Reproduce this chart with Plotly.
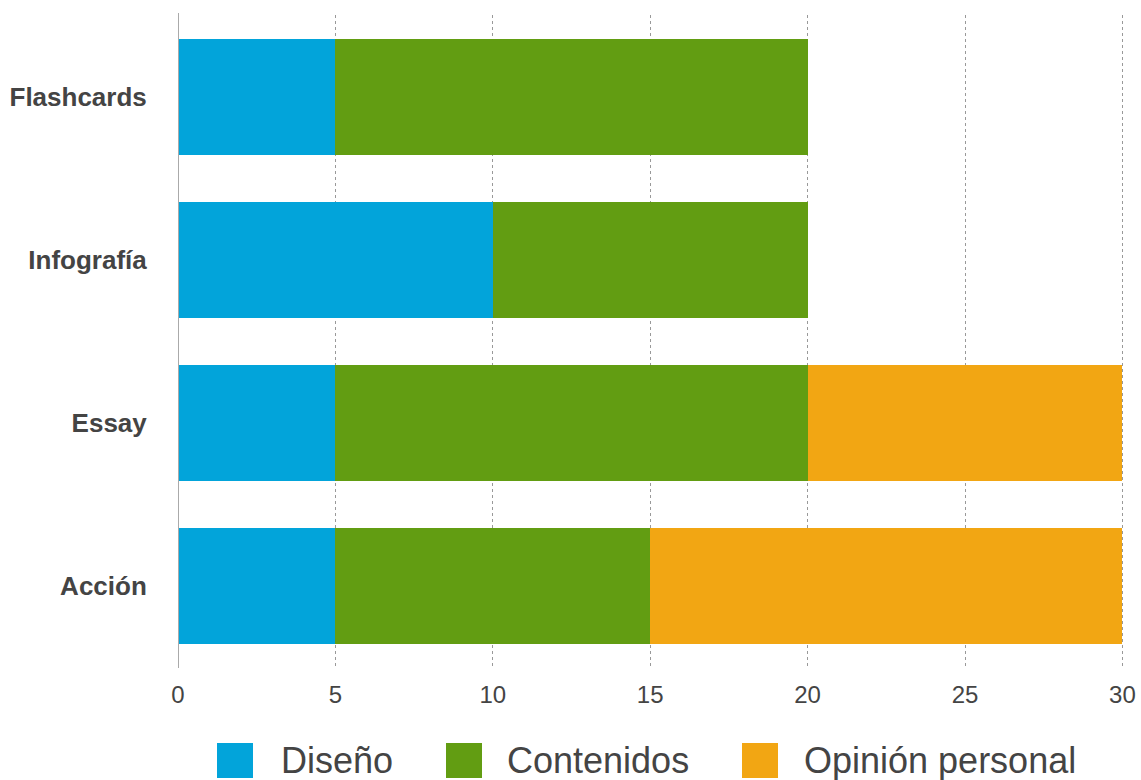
import plotly.graph_objects as go

categories = ["Flashcards", "Infografía", "Essay", "Acción"]
series_names = ["Diseño", "Contenidos", "Opinión personal"]
diseno = [5, 10, 5, 5]
contenidos = [15, 10, 15, 10]
opinion = [0, 0, 10, 15]
colors = ["#02A4DA", "#629D12", "#F2A613"]
x_ticks = [0, 5, 10, 15, 20, 25, 30]

fig = go.Figure()
for name, vals, col in zip(series_names, [diseno, contenidos, opinion], colors):
    fig.add_trace(go.Bar(
        y=categories, x=vals, name=name, orientation="h",
        marker=dict(color=col, line=dict(width=0)),
        showlegend=False,
    ))

fig.update_layout(
    barmode="stack",
    bargap=0.29,
    width=1141, height=780,
    margin=dict(l=178, r=17, t=15, b=112, autoexpand=False),
    plot_bgcolor="white", paper_bgcolor="white",
    font=dict(family="Liberation Sans, Arial, sans-serif", color="#444444"),
    xaxis=dict(
        range=[0, 30.05], tickvals=x_ticks, showgrid=True,
        gridcolor="#999999", griddash="dot", gridwidth=1,
        zeroline=False, showline=False, automargin=False,
        tickfont=dict(size=24, color="#444444"),
        ticks="outside", ticklen=5, tickcolor="rgba(0,0,0,0)",
    ),
    yaxis=dict(
        categoryorder="array", categoryarray=categories[::-1],
        range=[-0.5, 3.5], automargin=False,
        showgrid=False, zeroline=False, showline=False,
        tickfont=dict(size=26, color="#444444", family="Liberation Sans, Arial, sans-serif", weight="bold"),
        ticks="outside", ticklen=25, tickcolor="rgba(0,0,0,0)",
    ),
)

# axis line at x=0
fig.add_shape(type="line", xref="x", yref="paper", x0=0, x1=0, y0=0, y1=1.003,
              line=dict(color="#AAAAAA", width=2), layer="above")

# custom legend
leg_sq_x = [217, 446, 742]
leg_txt_x = [279, 505, 802]
H = 780
W = 1141
pl, pr, pt, pb = 178, 17, 15, 112
pw = W - pl - pr
ph = H - pt - pb
def px(xpix):
    return (xpix - pl) / pw
def py(ypix):
    return (H - pb - ypix) / ph
for name, col, sx, tx in zip(series_names, colors, leg_sq_x, leg_txt_x):
    fig.add_shape(type="rect", xref="paper", yref="paper",
                  x0=px(sx), x1=px(sx + 36), y0=py(778), y1=py(743),
                  fillcolor=col, line=dict(width=0))
    fig.add_annotation(xref="paper", yref="paper", x=px(tx), y=py(760),
                       text=name, showarrow=False, xanchor="left", yanchor="middle",
                       font=dict(size=36, color="#444444"))

fig.write_html("out.html", config={"displayModeBar": False},
               post_script="document.body.style.margin='0';document.body.style.overflow='hidden';")
